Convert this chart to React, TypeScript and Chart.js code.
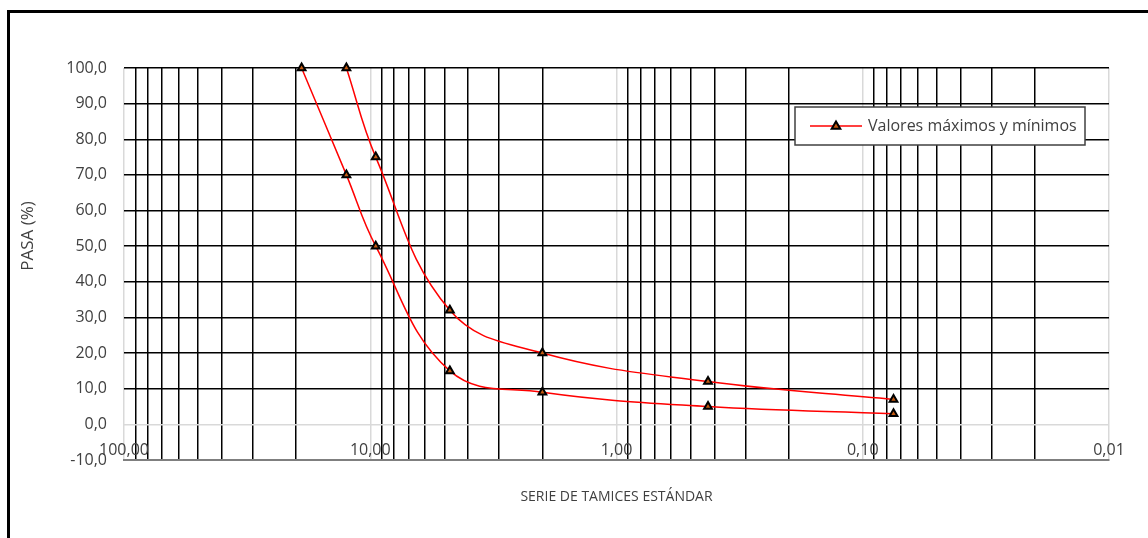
import React, { useEffect, useRef } from 'react';
import { Chart, registerables } from 'chart.js';

Chart.register(...registerables);

// ---- data ----
const minSieves = [19, 12.5, 9.5, 4.75, 2.0, 0.425, 0.075];
const minPassing = [100, 70, 50, 15, 9, 5, 3];
const maxSieves = [12.5, 9.5, 4.75, 2.0, 0.425, 0.075];
const maxPassing = [100, 75, 32, 20, 12, 7];
const xDecades = [0.01, 0.1, 1, 10];
const xMultipliers = [1, 2, 3, 4, 5, 6, 7, 8, 9];
const xMin = 0.01;
const xMax = 100;
const yMin = -10;
const yMax = 100;
const yStep = 10;
const seriesLabel = 'Valores máximos y mínimos';
const xTitle = 'SERIE DE TAMICES ESTÁNDAR';
const yTitle = 'PASA (%)';

const FONT = '"Open Sans", "Noto Sans", sans-serif';
const TEXT = '#404040';

const isMajor = (v: number) => Math.abs(Math.log10(v) - Math.round(Math.log10(v))) < 1e-9;

const legendPlugin = {
  id: 'customLegendAndYTitle',
  afterDraw(chart: any) {
    const ctx = chart.ctx as CanvasRenderingContext2D;
    // Y title
    ctx.save();
    ctx.translate(28, 236);
    ctx.rotate(-Math.PI / 2);
    ctx.font = `17px ${FONT}`;
    ctx.fillStyle = TEXT;
    ctx.textAlign = 'center';
    ctx.textBaseline = 'middle';
    ctx.fillText(yTitle, 0, 0);
    ctx.restore();

    // legend box
    const ds = chart.data.datasets[0];
    ctx.save();
    ctx.fillStyle = '#ffffff';
    ctx.fillRect(795, 107, 290, 38);
    ctx.strokeStyle = '#404040';
    ctx.lineWidth = 1.5;
    ctx.strokeRect(795, 107, 290, 38);
    ctx.strokeStyle = ds.borderColor;
    ctx.lineWidth = 1.5;
    ctx.beginPath();
    ctx.moveTo(810, 126);
    ctx.lineTo(862, 126);
    ctx.stroke();
    // marker
    const cx = 836, cy = 126, r = 4.5;
    ctx.beginPath();
    ctx.moveTo(cx, cy - r);
    ctx.lineTo(cx + r * 0.95, cy + r * 0.6);
    ctx.lineTo(cx - r * 0.95, cy + r * 0.6);
    ctx.closePath();
    ctx.fillStyle = ds.pointBackgroundColor;
    ctx.fill();
    ctx.strokeStyle = ds.pointBorderColor;
    ctx.lineWidth = 2;
    ctx.stroke();
    ctx.font = `16px ${FONT}`;
    ctx.fillStyle = TEXT;
    ctx.textAlign = 'left';
    ctx.textBaseline = 'middle';
    ctx.fillText(ds.label, 868, 126);
    ctx.restore();
  },
};

export default function App() {
  const canvasRef = useRef<HTMLCanvasElement | null>(null);

  useEffect(() => {
    if (!canvasRef.current) return;
    const mk = (xs: number[], ys: number[]) => xs.map((x, i) => ({ x, y: ys[i] }));
    const common = {
      label: seriesLabel,
      showLine: true,
      borderColor: '#ff0000',
      borderWidth: 1.5,
      tension: 0.4,
      pointStyle: 'triangle',
      pointRadius: 4.5,
      pointHoverRadius: 4.5,
      pointBorderWidth: 2,
      pointBorderColor: '#000000',
      pointBackgroundColor: '#c55a11',
      clip: false as any,
    };
    const chart = new Chart(canvasRef.current, {
      type: 'scatter',
      data: {
        datasets: [
          { ...common, data: mk(maxSieves, maxPassing) },
          { ...common, data: mk(minSieves, minPassing) },
        ],
      },
      options: {
        animation: false,
        responsive: true,
        maintainAspectRatio: false,
        layout: { padding: { left: 0, top: 68, right: 39, bottom: 0 } },
        plugins: { legend: { display: false }, tooltip: { enabled: false } },
        scales: {
          x: {
            type: 'logarithmic',
            reverse: true,
            min: xMin,
            max: xMax,
            afterBuildTicks: (scale: any) => {
              const t: { value: number }[] = [];
              xDecades.forEach((d) => xMultipliers.forEach((m) => t.push({ value: m * d })));
              t.push({ value: xMax });
              scale.ticks = t;
            },
            afterFit: (scale: any) => {
              scale.height = 78;
            },
            ticks: {
              autoSkip: false,
              maxRotation: 0,
              minRotation: 0,
              mirror: true,
              padding: 0,
              color: TEXT,
              font: { family: FONT, size: 16 },
              callback: (v: any) => (isMajor(Number(v)) ? Number(v).toFixed(2).replace('.', ',') : ''),
            },
            grid: {
              drawTicks: false,
              lineWidth: 1.5,
              color: (c: any) => (c.tick && isMajor(c.tick.value) ? '#d9d9d9' : '#000000'),
            },
            border: { display: true, color: '#7f7f7f', width: 2 },
            title: {
              display: true,
              text: xTitle,
              color: TEXT,
              font: { family: FONT, size: 14 },
              padding: { top: 0, bottom: 33 },
            },
          },
          y: {
            min: yMin,
            max: yMax,
            afterFit: (scale: any) => {
              scale.width = 124;
            },
            ticks: {
              stepSize: yStep,
              padding: 17,
              color: TEXT,
              font: { family: FONT, size: 16 },
              callback: (v: any) => Number(v).toFixed(1).replace('.', ','),
            },
            grid: {
              drawTicks: false,
              lineWidth: 1.5,
              color: (c: any) =>
                c.tick && c.tick.value === 0 ? '#d9d9d9' : c.tick && c.tick.value === yMin ? '#7f7f7f' : '#000000',
            },
            border: { display: false },
          },
        },
      },
      plugins: [legendPlugin],
    } as any);
    return () => chart.destroy();
  }, []);

  return (
    <div style={{ position: 'absolute', left: 0, top: 0, width: 1148, height: 538, overflow: 'hidden', background: '#fff' }}>
      <div
        style={{
          position: 'absolute',
          left: 7,
          top: 10,
          width: 1141,
          height: 528,
          boxSizing: 'border-box',
          borderLeft: '3px solid #000',
          borderTop: '3px solid #000',
        }}
      />
      <div style={{ position: 'absolute', left: 0, top: 0, width: 1148, height: 538 }}>
        <canvas ref={canvasRef} />
      </div>
    </div>
  );
}
